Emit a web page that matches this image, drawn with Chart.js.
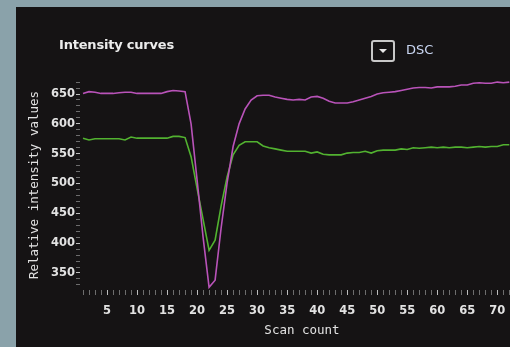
<!DOCTYPE html>
<html>
<head>
<meta charset="utf-8">
<script src="https://cdn.jsdelivr.net/npm/chart.js@4"></script>
<style>
  html, body { margin: 0; padding: 0; width: 510px; height: 347px; overflow: hidden; background: #8aa2aa; }
  #panel { position: absolute; left: 16px; top: 7px; width: 508px; height: 340px; background: #151314; }
  #title { position: absolute; left: 43px; top: 30px; color: #ececec; font: bold 13px "DejaVu Sans"; letter-spacing: -0.2px; }
  #dd { position: absolute; left: 355px; top: 33px; width: 20px; height: 18px; border: 2px solid #c8c8c8; border-radius: 3px; }
  #dd:after { content: ""; position: absolute; left: 6px; top: 7px; border-left: 4px solid transparent; border-right: 4px solid transparent; border-top: 4px solid #e8e8e8; }
  #dsc { position: absolute; left: 390px; top: 35px; color: #c9d6f2; font: 13px "DejaVu Sans"; }
  #wrap { position: absolute; left: 0; top: 0; width: 508px; height: 340px; }
</style>
</head>
<body>
<div id="panel">
  <div id="wrap"><canvas id="intensityChart" width="508" height="340"></canvas></div>
  <div id="title">Intensity curves</div>
  <div id="dd"></div>
  <div id="dsc">DSC</div>
</div>
<script>
// scan numbers
var scans = [];
for (var i = 1; i <= 72; i++) scans.push(i);

// upper curve (magenta)
var upperCurve = [651, 654, 653, 651, 651, 651, 652, 653, 653, 651, 651, 651, 651, 651, 654, 656, 655, 654,
  600, 506, 410, 326, 338, 425, 501, 562, 600, 625, 640, 647, 648, 648, 645, 643, 641, 640,
  641, 640, 645, 646, 643, 638, 635, 635, 635, 637, 640, 643, 646, 650, 652, 653, 654, 656,
  658, 660, 661, 661, 660, 662, 662, 662, 663, 665, 665, 668, 669, 668, 668, 670, 669, 670];

// lower curve (green)
var lowerCurve = [576, 573, 575, 575, 575, 575, 575, 573, 578, 576, 576, 576, 576, 576, 576, 579, 579, 577,
  545, 492, 440, 388, 405, 462, 511, 548, 564, 570, 570, 570, 563, 560, 558, 556, 554, 554,
  554, 554, 551, 553, 549, 548, 548, 548, 551, 552, 552, 554, 551, 555, 556, 556, 556, 558,
  557, 560, 559, 560, 561, 560, 561, 560, 561, 561, 560, 561, 562, 561, 562, 562, 565, 565];

var xLabelStep = 5;
var yLabelStep = 50;

function toPoints(vals) {
  return scans.map(function(s, i) { return {x: s, y: vals[i]}; });
}

var tickFont = {family: 'DejaVu Sans', size: 11.5, weight: 'bold'};
var titleFont = {family: 'DejaVu Sans Mono', size: 12.5};

var ctx = document.getElementById('intensityChart').getContext('2d');
var chart = new Chart(ctx, {
  type: 'line',
  data: {
    datasets: [{
      label: 'Upper',
      data: toPoints(upperCurve),
      borderColor: '#b953b9',
      borderWidth: 1.6,
      pointRadius: 0,
      tension: 0
    }, {
      label: 'Lower',
      data: toPoints(lowerCurve),
      borderColor: '#52b230',
      borderWidth: 1.6,
      pointRadius: 0,
      tension: 0
    }]
  },
  options: {
    responsive: false,
    animation: false,
    layout: {padding: {top: 73, right: 0, left: 0, bottom: 0}},
    plugins: {legend: {display: false}, tooltip: {enabled: false}},
    scales: {
      x: {
        type: 'linear',
        min: 0.5,
        max: 74.45,
        border: {display: false},
        grid: {
          drawOnChartArea: false,
          tickLength: 5,
          tickColor: function(c) { return c.tick && c.tick.value % xLabelStep === 0 ? '#bdbdbd' : '#6d6d6d'; }
        },
        ticks: {
          stepSize: 1,
          autoSkip: false,
          maxRotation: 0,
          includeBounds: false,
          padding: 9,
          color: '#e2e2e2',
          font: tickFont,
          callback: function(v) { return v % xLabelStep === 0 ? String(v) : ''; }
        },
        title: {
          display: true,
          text: 'Scan count',
          color: '#e2e2e2',
          font: titleFont,
          padding: {top: 0, bottom: 9}
        },
        afterFit: function(scale) {
          scale.height = 57;
          scale.paddingLeft = 0;
          scale.paddingRight = 0;
        }
      },
      y: {
        min: 321.5,
        max: 673.5,
        border: {display: false},
        grid: {
          drawOnChartArea: false,
          tickLength: 4,
          tickColor: function(c) { return c.tick && c.tick.value % yLabelStep === 0 ? '#bdbdbd' : '#6d6d6d'; }
        },
        ticks: {
          stepSize: 10,
          autoSkip: false,
          includeBounds: false,
          padding: 1,
          color: '#e2e2e2',
          font: tickFont,
          callback: function(v) { return v % yLabelStep === 0 ? String(v) : ''; }
        },
        title: {
          display: true,
          text: 'Relative intensity values',
          color: '#e2e2e2',
          font: titleFont,
          padding: {top: 11, bottom: 0}
        },
        afterFit: function(scale) {
          scale.width = 64;
          scale.paddingTop = 0;
          scale.paddingBottom = 0;
        }
      }
    }
  }
});
</script>
</body>
</html>
